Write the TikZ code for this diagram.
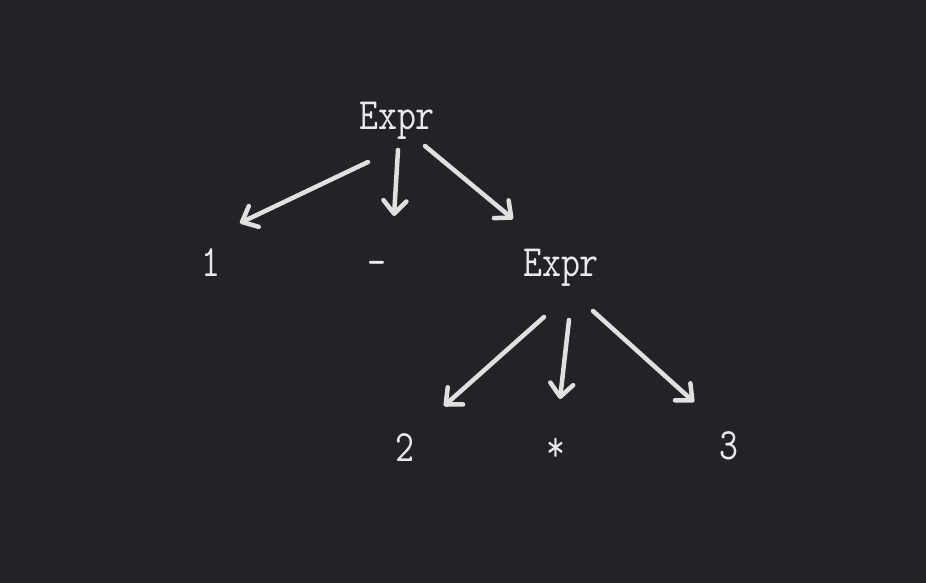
\documentclass[tikz,border=0pt]{standalone}
\usepackage{xcolor}
\usepackage{graphicx}
\usepackage{tikz}
\usetikzlibrary{arrows.meta}
\definecolor{bgdark}{RGB}{33,35,39}
\definecolor{inkwhite}{RGB}{232,234,236}
\definecolor{arrowgray}{RGB}{224,224,224}
\newcommand{\tk}[1]{\scalebox{0.92}[1.12]{#1}}

\begin{document}
\begin{tikzpicture}[x=1pt, y=-1pt,
    tok/.style={anchor=base, inner sep=0pt, text=inkwhite, font=\ttfamily\fontsize{40}{40}\selectfont},
    arr/.style={draw=arrowgray, line width=4.5pt, line cap=round, line join=round,
        -{Straight Barb[length=13pt, width=23pt, line cap=round, line join=round]}}]
    % Background
    \fill[bgdark] (0,0) rectangle (926,583);
    \useasboundingbox (0,0) rectangle (926,583);

    % Parse tree tokens
    \node[tok] (expr1) at (397,130) {\tk{Expr}}; % root
    \node[tok] (one) at (211,276) {\tk{1}};
    \node[tok] (minus) at (377,276) {\tk{-}};
    \node[tok] (expr2) at (561,276) {\tk{Expr}}; % subtree
    \node[tok] (two) at (405,461) {\tk{2}};
    \node[tok] (star) at (556,461) {\tk{*}};
    \node[tok] (three) at (729,459) {\tk{3}};

    % Edges
    \draw[arr] ([shift={(-29,32)}]expr1.base) -- ([shift={(29,-53)}]one.base);
    \draw[arr] ([shift={(1,20)}]expr1.base) -- ([shift={(17,-60)}]minus.base);
    \draw[arr] ([shift={(28,16)}]expr1.base) -- ([shift={(-48,-57)}]expr2.base);
    \draw[arr] ([shift={(-17,41)}]expr2.base) -- ([shift={(39,-55)}]two.base);
    \draw[arr] ([shift={(8,44)}]expr2.base) -- ([shift={(4,-62)}]star.base);
    \draw[arr] ([shift={(32,35)}]expr2.base) -- ([shift={(-35,-57)}]three.base);
\end{tikzpicture}
\end{document}
